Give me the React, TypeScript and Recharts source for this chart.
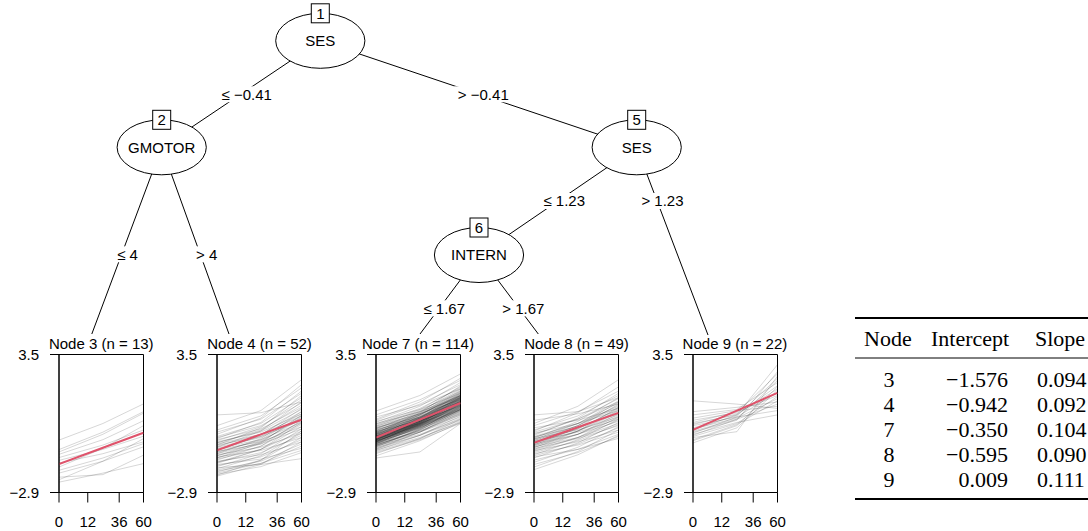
import React from 'react';
import { LineChart, Line, XAxis, YAxis, ReferenceArea } from 'recharts';

// ---------- data ----------
const nodeIds = [3, 4, 7, 8, 9];
const nodeSizes = [13, 52, 114, 49, 22];
const intercepts = [-1.576, -0.942, -0.35, -0.595, 0.009];
const slopes = [0.094, 0.092, 0.104, 0.09, 0.111];
const timePoints = [0, 8.0, 15.4];
const timeTickPos = [0, 5.24, 10.97, 15.4];
const timeTickLabels = ['0', '12', '36', '60'];
const yTicks = [-2.9, 3.5];

const node3Lines = [
  [-0.47, 0.3, 1.21], [-0.91, -0.1, 0.85], [-1.02, -0.2, 0.78], [-1.13, -0.45, 0.43],
  [-1.28, -0.7, 0.0], [-1.41, -0.9, -0.29], [-1.53, -1.1, -0.55], [-1.72, -0.85, 0.2],
  [-1.87, -1.3, -0.63], [-2.0, -1.45, -0.78], [-2.19, -2.07, -1.17], [-2.31, -1.45, -0.4],
  [-2.42, -2.0, -1.56],
];

const node4Lines = [
  [0.7, 0.8, 1.3], [0.2, 0.9, 2.33], [0.0, 0.65, 1.95], [-0.1, 0.5, 1.7], [-0.2, 0.55, 2.1],
  [-0.3, 0.3, 1.5], [-0.35, 0.2, 1.25], [-0.4, 0.35, 1.8], [-0.45, 0.05, 1.05], [-0.5, 0.15, 1.4],
  [-0.55, -0.1, 0.75], [-0.6, 0.0, 1.15], [-0.6, -0.05, 0.95], [-0.65, -0.2, 0.65], [-0.7, 0.1, 1.6],
  [-0.7, -0.3, 0.45], [-0.75, -0.2, 0.85], [-0.8, -0.35, 0.55], [-0.8, -0.05, 1.3], [-0.85, -0.45, 0.35],
  [-0.9, -0.3, 0.75], [-0.9, -0.55, 0.15], [-0.95, -0.25, 1.0], [-1.0, -0.5, 0.5], [-1.0, -0.65, 0.05],
  [-1.05, -0.45, 0.65], [-1.1, -0.6, 0.3], [-1.1, -0.4, 0.85], [-1.15, -0.8, -0.15], [-1.2, -0.65, 0.4],
  [-1.2, -0.55, 0.6], [-1.25, -0.95, -0.35], [-1.3, -0.75, 0.25], [-1.3, -0.6, 0.7], [-1.35, -0.9, -0.05],
  [-1.4, -0.75, 0.45], [-1.45, -1.15, -0.55], [-1.5, -0.9, 0.15], [-1.5, -1.05, -0.25], [-1.55, -0.9, 0.35],
  [-1.6, -1.35, -0.85], [-1.65, -1.25, -0.45], [-1.7, -1.1, 0.05], [-1.75, -1.6, -1.33], [-1.8, -1.2, -0.15],
  [-1.85, -1.45, -0.65], [-1.9, -1.55, -0.95], [-1.95, -1.4, -0.35], [-2.0, -1.55, -0.75], [-2.05, -1.7, -1.05],
  [-2.1, -1.4, -0.05], [-2.14, -1.6, -0.55],
];

const node7Lines = [
  [0.88, 1.6, 2.6], [0.7, 1.4, 2.3], [0.6, 1.15, 1.9], [0.5, 1.3, 2.4], [0.45, 1.2, 2.1],
  [0.4, 0.95, 1.7], [0.35, 1.1, 2.2], [0.3, 0.85, 1.5], [0.28, 1.0, 1.95], [0.25, 0.85, 1.6],
  [0.2, 0.95, 2.0], [0.18, 0.75, 1.4], [0.15, 0.9, 1.8], [0.12, 0.6, 1.3], [0.1, 0.8, 1.75],
  [0.08, 0.75, 1.55], [0.05, 0.85, 1.9], [0.02, 0.55, 1.2], [0.0, 0.7, 1.65], [-0.02, 0.65, 1.45],
  [-0.05, 0.75, 1.85], [-0.07, 0.45, 1.1], [-0.1, 0.6, 1.5], [-0.12, 0.7, 1.7], [-0.14, 0.45, 1.25],
  [-0.15, 0.6, 1.6], [-0.17, 0.8, 2.05], [-0.19, 0.5, 1.35], [-0.2, 0.3, 1.0], [-0.22, 0.55, 1.55],
  [-0.23, 0.7, 1.8], [-0.25, 0.5, 1.4], [-0.26, 0.35, 1.15], [-0.28, 0.6, 1.65], [-0.29, 0.4, 1.3],
  [-0.3, 0.25, 0.95], [-0.31, 0.5, 1.5], [-0.32, 0.65, 1.75], [-0.33, 0.35, 1.2], [-0.34, 0.45, 1.45],
  [-0.35, 0.2, 0.9], [-0.36, 0.55, 1.6], [-0.37, 0.4, 1.35], [-0.38, 0.25, 1.05], [-0.39, 0.55, 1.7],
  [-0.4, 0.35, 1.25], [-0.41, 0.45, 1.5], [-0.42, 0.15, 0.85], [-0.43, 0.4, 1.4], [-0.44, 0.3, 1.15],
  [-0.45, 0.45, 1.6], [-0.46, 0.2, 1.0], [-0.47, 0.35, 1.3], [-0.48, 0.4, 1.55], [-0.49, 0.1, 0.8],
  [-0.5, 0.25, 1.2], [-0.51, 0.35, 1.45], [-0.52, 0.15, 0.95], [-0.53, 0.3, 1.35], [-0.54, 0.2, 1.1],
  [-0.55, 0.05, 0.75], [-0.56, 0.25, 1.25], [-0.57, 0.35, 1.5], [-0.58, 0.1, 0.9], [-0.6, 0.2, 1.15],
  [-0.62, -0.05, 0.7], [-0.63, 0.25, 1.3], [-0.65, 0.1, 1.0], [-0.67, -0.1, 0.6], [-0.68, 0.15, 1.2],
  [-0.7, 0.0, 0.85], [-0.72, 0.05, 1.05], [-0.74, -0.2, 0.5], [-0.76, 0.0, 0.95], [-0.78, -0.1, 0.7],
  [-0.8, 0.05, 1.1], [-0.82, -0.25, 0.45], [-0.85, -0.1, 0.8], [-0.88, -0.25, 0.55], [-0.9, -0.1, 0.9],
  [-0.93, -0.35, 0.35], [-0.96, -0.25, 0.65], [-1.0, -0.4, 0.4], [-1.05, -0.45, 0.31], [-1.1, -0.4, 0.5],
  [-1.2, -0.5, 0.35], [-1.3, -1.02, 0.3],
  [-0.3, 0.3, 1.1], [-0.35, 0.4, 1.3], [-0.4, 0.2, 0.95], [-0.45, 0.4, 1.45], [-0.25, 0.4, 1.25],
  [-0.2, 0.55, 1.5], [-0.15, 0.5, 1.3], [-0.1, 0.55, 1.4], [-0.05, 0.7, 1.6], [-0.5, 0.15, 1.0],
  [-0.55, 0.3, 1.35], [-0.6, 0.1, 0.95], [-0.65, 0.2, 1.25], [-0.7, -0.05, 0.75], [-0.45, 0.3, 1.2],
  [-0.38, 0.5, 1.55], [-0.28, 0.45, 1.35], [-0.18, 0.4, 1.15], [-0.08, 0.6, 1.45], [0.05, 0.75, 1.6],
  [-0.33, 0.3, 1.05], [-0.43, 0.35, 1.3], [-0.53, 0.25, 1.15], [-0.63, 0.15, 1.05], [-0.73, 0.0, 0.95],
  [-0.58, 0.3, 1.4], [-0.48, 0.25, 1.1],
];

const node8Lines = [
  [0.7, 0.85, 1.5], [0.45, 0.75, 1.2], [0.3, 1.1, 2.33], [0.2, 0.85, 1.8], [0.1, 0.45, 1.0],
  [0.0, 0.65, 1.6], [-0.05, 0.8, 2.0], [-0.1, 0.5, 1.3], [-0.15, 0.3, 0.9], [-0.2, 0.5, 1.45],
  [-0.25, 0.55, 1.7], [-0.3, 0.3, 1.1], [-0.32, 0.15, 0.75], [-0.35, 0.3, 1.25], [-0.38, 0.4, 1.5],
  [-0.4, 0.0, 0.6], [-0.42, 0.2, 1.05], [-0.45, 0.3, 1.35], [-0.48, 0.1, 0.85], [-0.5, 0.2, 1.15],
  [-0.52, -0.1, 0.5], [-0.55, 0.05, 0.95], [-0.58, 0.2, 1.3], [-0.6, -0.05, 0.7], [-0.62, 0.05, 1.0],
  [-0.65, -0.2, 0.4], [-0.68, -0.05, 0.8], [-0.7, 0.1, 1.2], [-0.72, -0.2, 0.55], [-0.75, -0.05, 0.9],
  [-0.78, -0.35, 0.3], [-0.8, -0.2, 0.65], [-0.83, -0.05, 1.05], [-0.86, -0.4, 0.2], [-0.9, -0.2, 0.75],
  [-0.93, -0.35, 0.45], [-0.96, -0.55, 0.0], [-1.0, -0.35, 0.6], [-1.05, -0.5, 0.25], [-1.1, -0.7, -0.1],
  [-1.15, -0.45, 0.5], [-1.2, -0.65, 0.1], [-1.25, -0.9, -0.39], [-1.3, -0.6, 0.35], [-1.4, -0.9, -0.2],
  [-1.5, -0.8, 0.15], [-1.6, -1.05, -0.3], [-1.72, -1.0, 0.0], [-1.84, -1.15, -0.25],
];

const node9Lines = [
  [1.35, 1.2, 1.0], [0.85, 1.05, 1.3], [0.7, 0.95, 2.2], [0.55, 0.9, 1.1], [0.45, 0.8, 2.6],
  [0.35, 0.85, 1.6], [0.3, 0.7, 3.03], [0.25, 0.75, 1.9], [0.2, 0.6, 0.9], [0.1, 0.65, 2.4],
  [0.05, 0.55, 1.45], [0.0, 0.7, 2.05], [-0.05, 0.5, 1.2], [-0.1, 0.45, 2.7], [-0.15, 0.6, 1.75],
  [-0.2, 0.35, 0.7], [-0.25, 0.5, 2.3], [-0.3, 0.3, 1.55], [-0.35, -0.08, 2.5], [-0.45, 0.25, 1.35],
  [-0.5, 0.2, 2.0], [-0.6, 0.1, 1.85],
];

const allLines = [node3Lines, node4Lines, node7Lines, node8Lines, node9Lines];

// ---------- layout ----------
const SANS = "'Liberation Sans', Arial, Helvetica, sans-serif";
const SERIF = "'Liberation Serif', 'Times New Roman', serif";
const FS = 15;
const RX = 44.6;
const RY = 27.5;
const panelBoxLeft = [59, 217.3, 375.7, 534.3, 692.7];
const BOX_W = 84.5;
const CHART_TOP = 300;
const CHART_H = 231;
const CHART_W = 155;
const Y_AXIS_W = 50;
const LEFT_M = 10;

const innerNodes = [
  { id: 1, label: 'SES', cx: 320.3, cy: 40.8 },
  { id: 2, label: 'GMOTOR', cx: 161.7, cy: 147.3 },
  { id: 5, label: 'SES', cx: 636.7, cy: 147.3 },
  { id: 6, label: 'INTERN', cx: 479, cy: 255 },
];

const edges = [
  { x1: 320.3, y1: 40.8, x2: 161.7, y2: 147.3, label: '≤ −0.41', lx: 246.7, ly: 94.3, w: 54 },
  { x1: 320.3, y1: 40.8, x2: 636.7, y2: 147.3, label: '> −0.41', lx: 483.3, ly: 94.3, w: 54 },
  { x1: 161.7, y1: 147.3, x2: 91.8, y2: 334, label: '≤ 4', lx: 127.5, ly: 254.3, w: 24 },
  { x1: 161.7, y1: 147.3, x2: 229, y2: 334, label: '> 4', lx: 206.7, ly: 254.3, w: 24 },
  { x1: 636.7, y1: 147.3, x2: 479, y2: 255, label: '≤ 1.23', lx: 564.2, ly: 201, w: 44 },
  { x1: 636.7, y1: 147.3, x2: 708, y2: 335, label: '> 1.23', lx: 662.5, ly: 201, w: 44 },
  { x1: 479, y1: 255, x2: 420, y2: 334, label: '≤ 1.67', lx: 444.2, ly: 308.3, w: 44 },
  { x1: 479, y1: 255, x2: 538.3, y2: 334, label: '> 1.67', lx: 523.3, ly: 308.3, w: 44 },
];

const fmtNum = (v: number, d: number) => (v < 0 ? '−' + Math.abs(v).toFixed(d) : v.toFixed(d));
const fmtTick = (v: number) => (v < 0 ? '−' + Math.abs(v) : String(v));

function Panel({ idx }: { idx: number }) {
  const lines = allLines[idx];
  const rows = timePoints.map((t, i) => {
    const row: any = { t, fit: intercepts[idx] + slopes[idx] * t };
    lines.forEach((ln, j) => {
      row['g' + j] = ln[i];
    });
    return row;
  });
  const left = panelBoxLeft[idx] - Y_AXIS_W - LEFT_M;
  const tickStyle = { fontSize: FS, fill: '#000', fontFamily: SANS };
  return (
    <div style={{ position: 'absolute', left, top: CHART_TOP }}>
      <LineChart
        width={CHART_W}
        height={CHART_H}
        data={rows}
        margin={{ top: 54.5, right: CHART_W - Y_AXIS_W - LEFT_M - BOX_W, left: LEFT_M, bottom: 0 }}
      >
        <XAxis
          type="number"
          dataKey="t"
          domain={[timeTickPos[0], timeTickPos[timeTickPos.length - 1]]}
          ticks={timeTickPos}
          interval={0}
          tickFormatter={(v: number) => timeTickLabels[timeTickPos.indexOf(v)]}
          tick={tickStyle}
          tickSize={10}
          tickMargin={14}
          height={38.5}
          axisLine={{ stroke: '#000' }}
          tickLine={{ stroke: '#000' }}
          allowDataOverflow
        />
        <YAxis
          type="number"
          domain={[yTicks[0], yTicks[1]]}
          ticks={yTicks}
          interval={0}
          tickFormatter={fmtTick}
          tick={tickStyle}
          tickSize={9}
          tickMargin={11}
          width={Y_AXIS_W}
          axisLine={{ stroke: '#000' }}
          tickLine={{ stroke: '#000' }}
          allowDataOverflow
        />
        {lines.map((_, j) => (
          <Line
            key={j}
            type="linear"
            dataKey={'g' + j}
            stroke="#000"
            strokeOpacity={0.16}
            strokeWidth={1}
            dot={false}
            activeDot={false}
            isAnimationActive={false}
          />
        ))}
        <Line
          type="linear"
          dataKey="fit"
          stroke="#DF536B"
          strokeWidth={2}
          dot={false}
          activeDot={false}
          isAnimationActive={false}
        />
        <ReferenceArea
          x1={timeTickPos[0]}
          x2={timeTickPos[timeTickPos.length - 1]}
          y1={yTicks[0]}
          y2={yTicks[1]}
          fill="none"
          fillOpacity={0}
          stroke="#000"
          strokeWidth={1}
        />
      </LineChart>
    </div>
  );
}

function Tree() {
  return (
    <svg width={1088} height={531} style={{ position: 'absolute', left: 0, top: 0 }}>
      {edges.map((e, i) => (
        <line key={'e' + i} x1={e.x1} y1={e.y1} x2={e.x2} y2={e.y2} stroke="#000" strokeWidth={1} />
      ))}
      {edges.map((e, i) => (
        <g key={'l' + i}>
          <rect x={e.lx - e.w / 2 - 2} y={e.ly - 8} width={e.w + 4} height={16} fill="#fff" />
          <text x={e.lx} y={e.ly + 5.4} textAnchor="middle" fontSize={FS} fontFamily={SANS} fill="#000">
            {e.label}
          </text>
        </g>
      ))}
      {innerNodes.map((n) => (
        <g key={'n' + n.id}>
          <ellipse cx={n.cx} cy={n.cy} rx={RX} ry={RY} fill="#fff" stroke="#000" strokeWidth={1} />
          <text x={n.cx} y={n.cy + 5.4} textAnchor="middle" fontSize={FS} fontFamily={SANS} fill="#000">
            {n.label}
          </text>
          <rect x={n.cx - 9} y={n.cy - RY - 9.5} width={18} height={19} fill="#fff" stroke="#000" strokeWidth={1} />
          <text x={n.cx} y={n.cy - RY + 5.4} textAnchor="middle" fontSize={FS} fontFamily={SANS} fill="#000">
            {n.id}
          </text>
        </g>
      ))}
      {nodeIds.map((id, i) => (
        <g key={'t' + id}>
          <rect x={panelBoxLeft[i] + BOX_W / 2 - 54} y={336} width={108} height={17} fill="#fff" />
          <text
            x={panelBoxLeft[i] + BOX_W / 2}
            y={349}
            textAnchor="middle"
            fontSize={FS}
            fontFamily={SANS}
            fill="#000"
          >
            {`Node ${id} (n = ${nodeSizes[i]})`}
          </text>
        </g>
      ))}
      {/* coefficient table */}
      <line x1={855} y1={318} x2={1088} y2={318} stroke="#000" strokeWidth={2} />
      <line x1={855} y1={358} x2={1088} y2={358} stroke="#000" strokeWidth={1} />
      <line x1={855} y1={499} x2={1088} y2={499} stroke="#000" strokeWidth={2} />
      <g fontFamily={SERIF} fontSize={22} fill="#000">
        <text x={864} y={346}>Node</text>
        <text x={931} y={346}>Intercept</text>
        <text x={1035} y={346}>Slope</text>
        {nodeIds.map((id, i) => (
          <g key={'r' + id}>
            <text x={889} y={387 + i * 25} textAnchor="middle">{id}</text>
            <text x={1008} y={387 + i * 25} textAnchor="end">{fmtNum(intercepts[i], 3)}</text>
            <text x={1037} y={387 + i * 25}>{fmtNum(slopes[i], 3)}</text>
          </g>
        ))}
      </g>
    </svg>
  );
}

export default function App() {
  return (
    <div style={{ position: 'absolute', left: 0, top: 0, width: 1088, height: 531, background: '#fff', overflow: 'hidden' }}>
      <Tree />
      {nodeIds.map((id, i) => (
        <Panel key={id} idx={i} />
      ))}
    </div>
  );
}
